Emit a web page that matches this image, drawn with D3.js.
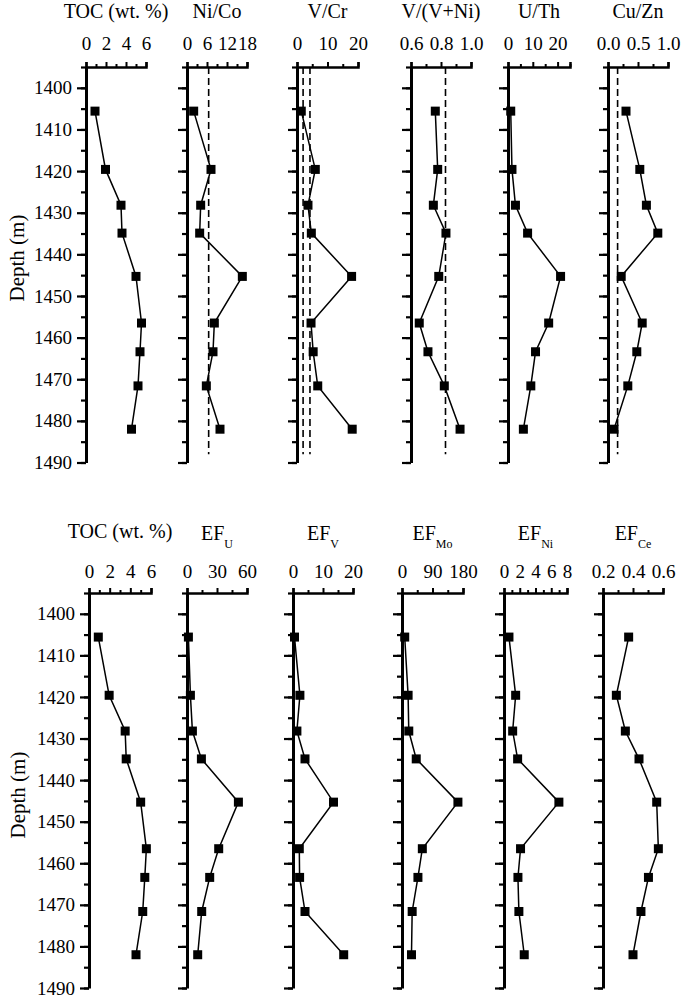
<!DOCTYPE html>
<html lang="en">
  <head>
  <title>Geochemical profiles</title>
    <style>
      body { margin: 0; background: #fff; }
      svg text { font-family: 'Liberation Serif', 'Times New Roman', 'DejaVu Serif', serif !important; fill: #000; }
      .axis path, .axis line { stroke: #000; }
      .axis text { font-size: 19px; }
    </style>
  </head>
  <body>
<div id="my_dataviz"></div>
    <script src="https://d3js.org/d3.v7.min.js"></script>
    <script>
    var serif = "'Liberation Serif', 'Times New Roman', 'DejaVu Serif', serif";

    // sample depths (m), shared by every panel
    var depth = [1405.6, 1419.6, 1428.2, 1434.9, 1445.3, 1456.5, 1463.4, 1471.6, 1482.0];

    // top row
    var toc   = [0.9, 1.95, 3.5, 3.6, 5.0, 5.55, 5.4, 5.2, 4.55];
    var niCo  = [2.0, 7.2, 4.1, 3.8, 16.6, 8.2, 7.8, 5.8, 9.9];
    var vCr   = [1.4, 6.0, 3.6, 4.7, 17.9, 4.6, 5.3, 6.8, 18.1];
    var vVNi  = [0.762, 0.778, 0.749, 0.833, 0.785, 0.655, 0.713, 0.822, 0.927];
    var uTh   = [1.1, 1.6, 3.0, 7.9, 21.2, 16.4, 11.1, 9.2, 6.2];
    var cuZn  = [0.30, 0.53, 0.64, 0.83, 0.22, 0.57, 0.48, 0.33, 0.10];

    // bottom row
    var efU   = [1.4, 3.4, 5.4, 14.4, 51.4, 31.7, 22.7, 14.7, 10.7];
    var efV   = [0.5, 2.3, 1.3, 4.0, 13.5, 2.1, 2.2, 4.0, 16.9];
    var efMo  = [8, 18, 20, 42, 165, 60, 47, 30, 28];
    var efNi  = [0.63, 1.48, 1.1, 1.73, 6.97, 2.1, 1.77, 1.89, 2.57];
    var efCe  = [0.371, 0.289, 0.349, 0.44, 0.558, 0.569, 0.503, 0.453, 0.40];

    // threshold lines
    var niCoLines = [6.5];
    var vCrLines  = [2, 4.25];
    var vVNiLines = [0.83];
    var cuZnLines = [0.16];

    var depthDomain = [1395, 1490];
    var depthTicks = d3.range(1400, 1491, 10);
    var depthMinor = d3.range(1395, 1491, 5);

    var rows = [
      { top: 67, bottom: 462.5, titleY: 17.5, pad: 12, labelY: 258, labelX: 24 },
      { top: 593, bottom: 988, titleY: 538, pad: 10, labelY: 795, labelX: 25 }
    ];

    var panels = [
      { row: 0, left: 86,  width: 60, title: "TOC (wt. %)", values: toc,  domain: [0, 6],   ticks: d3.range(0, 6.01, 1),   major: [0, 2, 4, 6], lines: [], fmt: "d" },
      { row: 0, left: 187, width: 60, title: "Ni/Co",       values: niCo, domain: [0, 18],  ticks: d3.range(0, 18.1, 3),   major: [0, 6, 12, 18], lines: niCoLines, fmt: "d" },
      { row: 0, left: 297, width: 61, title: "V/Cr",        values: vCr,  domain: [0, 20],  ticks: d3.range(0, 20.1, 5),   major: [0, 10, 20], lines: vCrLines, fmt: "d" },
      { row: 0, left: 411, width: 60, title: "V/(V+Ni)",    values: vVNi, domain: [0.6, 1], ticks: [0.6, 0.7, 0.8, 0.9, 1.0], major: [0.6, 0.8, 1.0], lines: vVNiLines, fmt: ".1f" },
      { row: 0, left: 508, width: 62, title: "U/Th",        values: uTh,  domain: [0, 25],  ticks: d3.range(0, 25.1, 5),   major: [0, 10, 20], lines: [], fmt: "d" },
      { row: 0, left: 608, width: 60, title: "Cu/Zn",       values: cuZn, domain: [0, 1],   ticks: [0, 0.25, 0.5, 0.75, 1], major: [0, 0.5, 1.0], lines: cuZnLines, fmt: ".1f" },

      { row: 1, left: 89,  width: 62, title: "TOC (wt. %)", values: toc,  domain: [0, 6],   ticks: d3.range(0, 6.01, 1),   major: [0, 2, 4, 6], lines: [], fmt: "d" },
      { row: 1, left: 187, width: 60, title: "EF", sub: "U",  values: efU,  domain: [0, 60],  ticks: d3.range(0, 60.1, 15), major: [0, 30, 60], lines: [], fmt: "d" },
      { row: 1, left: 293, width: 60, title: "EF", sub: "V",  values: efV,  domain: [0, 20],  ticks: d3.range(0, 20.1, 5),  major: [0, 10, 20], lines: [], fmt: "d" },
      { row: 1, left: 402, width: 61, title: "EF", sub: "Mo", values: efMo, domain: [0, 180], ticks: d3.range(0, 181, 45),  major: [0, 90, 180], lines: [], fmt: "d" },
      { row: 1, left: 504, width: 63, title: "EF", sub: "Ni", values: efNi, domain: [0, 8],   ticks: d3.range(0, 8.01, 1),  major: [0, 2, 4, 6, 8], lines: [], fmt: "d" },
      { row: 1, left: 603, width: 60, title: "EF", sub: "Ce", values: efCe, domain: [0.2, 0.6], ticks: [0.2, 0.3, 0.4, 0.5, 0.6], major: [0.2, 0.4, 0.6], lines: [], fmt: ".1f" }
    ];

    var svg = d3.select("#my_dataviz")
        .append("svg")
        .attr("width", 685)
        .attr("height", 1001)
        .attr("font-family", serif);

    rows.forEach(function(r) {
      svg.append("text")
          .attr("transform", "translate(" + r.labelX + "," + r.labelY + ") rotate(-90)")
          .attr("text-anchor", "middle")
          .style("font-family", serif)
          .style("font-size", "21px")
          .text("Depth (m)");
    });

    panels.forEach(function(p, i) {
      var r = rows[p.row];
      var first = (i === 0 || panels[i - 1].row !== p.row);

      var x = d3.scaleLinear().domain(p.domain).range([p.left, p.left + p.width]);
      var y = d3.scaleLinear().domain(depthDomain).range([r.top, r.bottom]);

      var g = svg.append("g");

      // threshold dashed lines
      g.selectAll(".thr")
        .data(p.lines)
        .enter().append("line")
          .attr("x1", function(d) { return x(d); })
          .attr("x2", function(d) { return x(d); })
          .attr("y1", y(1395))
          .attr("y2", y(1488))
          .attr("stroke", "#000")
          .attr("stroke-width", 1.6)
          .attr("stroke-dasharray", "7,4");

      // top axis: minor then major
      var minor = p.ticks.filter(function(t) {
        return !p.major.some(function(m) { return Math.abs(m - t) < 1e-9; });
      });
      g.append("g")
          .attr("class", "axis")
          .attr("transform", "translate(0," + r.top + ")")
          .call(d3.axisTop(x).tickValues(minor).tickSize(3).tickSizeOuter(0).tickFormat(""))
          .call(function(a) { a.select(".domain").remove(); a.selectAll("line").attr("stroke-width", 2); });
      g.append("g")
          .attr("class", "axis")
          .attr("transform", "translate(0," + r.top + ")")
          .call(d3.axisTop(x).tickValues(p.major).tickSize(5).tickSizeOuter(5).tickPadding(r.pad).tickFormat(d3.format(p.fmt)))
          .call(function(a) {
            a.attr("font-family", serif).attr("font-size", 19);
            a.selectAll("text").style("font-family", serif);
            a.select(".domain").attr("stroke-width", 2.5);
            a.selectAll("line").attr("stroke-width", 2);
          });

      // depth axis
      g.append("g")
          .attr("class", "axis")
          .attr("transform", "translate(" + p.left + ",0)")
          .call(d3.axisLeft(y).tickValues(depthMinor).tickSize(5).tickSizeOuter(0).tickFormat(""))
          .call(function(a) { a.select(".domain").remove(); a.selectAll("line").attr("stroke-width", 2.2); });
      g.append("g")
          .attr("class", "axis")
          .attr("transform", "translate(" + p.left + ",0)")
          .call(d3.axisLeft(y).tickValues(depthTicks).tickSize(9).tickSizeOuter(0).tickPadding(5)
                .tickFormat(first ? d3.format("d") : ""))
          .call(function(a) {
            a.attr("font-family", serif).attr("font-size", 19);
            a.selectAll("text").style("font-family", serif);
            a.select(".domain").attr("stroke-width", 3);
            a.selectAll("line").attr("stroke-width", 2.2);
          });

      // title
      var t = g.append("text")
          .attr("x", p.left + p.width / 2)
          .attr("y", p.sub ? r.titleY + 2 : r.titleY)
          .attr("text-anchor", "middle")
          .style("font-family", serif)
          .style("font-size", "20px")
          .text(p.title);
      if (p.sub) {
        t.append("tspan")
            .attr("dy", 8)
            .style("font-size", "12px")
            .text(p.sub);
      }

      // profile line + markers
      var pts = p.values.map(function(v, k) { return [v, depth[k]]; });
      g.append("path")
          .datum(pts)
          .attr("fill", "none")
          .attr("stroke", "#000")
          .attr("stroke-width", 1.5)
          .attr("d", d3.line()
              .x(function(d) { return x(d[0]); })
              .y(function(d) { return y(d[1]); }));

      g.selectAll(".pt")
        .data(pts)
        .enter().append("rect")
          .attr("x", function(d) { return x(d[0]) - 4.5; })
          .attr("y", function(d) { return y(d[1]) - 4.5; })
          .attr("width", 9)
          .attr("height", 9)
          .attr("fill", "#000");
    });
    </script>
  </body>
</html>
